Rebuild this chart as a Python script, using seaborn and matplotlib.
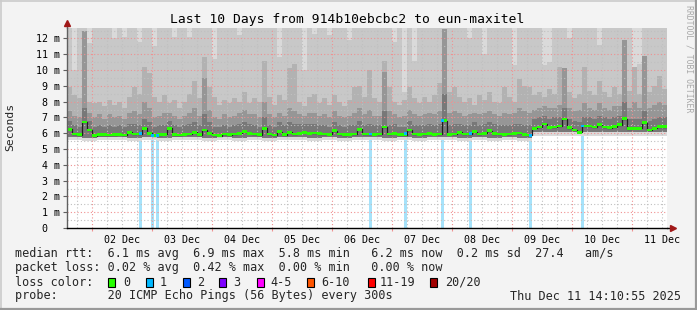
import numpy as np
import pandas as pd
import matplotlib
matplotlib.use("Agg")
import matplotlib.pyplot as plt
import seaborn as sns
from matplotlib.patches import Rectangle
from matplotlib.lines import Line2D

# ---------------- data (2-hour bins, 120 bins over 10 days) ----------------
median_rtt = [6.25,5.95,5.90,6.70,6.20,5.85,5.90,5.90,5.88,5.90,
              5.92,5.88,6.05,5.95,5.95,6.30,6.00,5.85,5.90,5.92,
              6.30,5.90,5.88,5.92,5.95,6.05,5.90,6.20,6.00,5.88,
              5.85,5.95,5.90,5.95,6.00,6.10,6.00,5.95,5.90,6.30,
              5.95,5.88,6.10,5.90,6.05,5.95,6.00,6.05,6.00,6.02,
              5.98,5.95,5.92,6.15,5.95,5.90,5.92,5.95,6.25,5.95,
              5.95,5.92,5.95,6.40,5.95,6.00,5.90,5.90,6.20,5.95,
              5.92,5.95,6.00,5.92,5.95,6.80,5.92,5.95,6.05,5.95,
              5.95,6.10,5.95,6.00,6.15,5.98,5.95,5.92,5.95,6.00,
              6.02,5.92,5.88,6.30,6.40,6.58,6.37,6.40,6.46,6.90,
              6.35,6.20,6.05,6.45,6.45,6.40,6.55,6.40,6.35,6.42,
              6.55,6.92,6.28,6.30,6.30,6.67,6.20,6.30,6.42,6.42]

smoke_dark = [6.8,6.5,6.4,7.6,6.8,6.4,6.5,6.4,6.5,6.4,
              6.5,6.4,6.6,6.6,6.5,6.9,6.7,6.4,6.5,6.5,
              6.8,6.5,6.4,6.5,6.6,6.7,6.5,7.2,6.7,6.4,
              6.4,6.5,6.4,6.5,6.6,6.7,6.6,6.5,6.4,7.0,
              6.5,6.4,6.7,6.5,6.7,6.6,6.6,6.6,6.6,6.6,
              6.5,6.5,6.4,6.7,6.5,6.4,6.5,6.5,6.8,6.5,
              6.6,6.5,6.5,7.4,6.5,6.6,6.4,6.4,6.8,6.5,
              6.5,6.5,6.6,6.5,6.6,8.5,6.5,6.6,6.6,6.5,
              6.5,6.7,6.5,6.6,6.7,6.6,6.5,6.5,6.5,6.6,
              6.6,6.5,6.5,6.9,7.0,7.1,6.9,7.0,7.0,7.6,
              6.9,6.8,6.7,7.0,7.0,6.9,7.1,7.0,6.9,7.0,
              7.1,8.0,6.9,6.9,6.9,7.4,6.8,6.9,7.0,7.0]

smoke_middark = [7.4,7.1,7.0,12.5,7.3,7.0,7.2,6.9,7.2,7.0,
                 7.1,6.9,7.3,7.4,7.2,8.0,7.6,7.0,7.1,7.3,
                 7.3,7.1,6.9,7.1,7.3,7.6,7.1,9.5,7.5,7.0,
                 6.9,7.2,7.0,7.1,7.3,7.5,7.2,7.2,7.0,8.0,
                 7.2,7.0,7.3,7.1,7.6,7.4,7.2,7.1,7.3,7.3,
                 7.1,7.2,7.0,7.4,7.1,7.0,7.1,7.3,7.6,7.2,
                 7.5,7.1,7.1,9.9,7.4,7.2,7.0,7.1,7.5,7.2,
                 7.1,7.2,7.3,7.2,7.4,12.6,7.3,7.4,7.3,7.1,
                 7.2,7.3,7.2,7.3,7.4,7.2,7.1,7.3,7.2,7.3,
                 7.6,7.4,7.3,7.5,7.6,7.7,7.6,7.6,7.8,10.1,
                 7.6,7.4,7.5,7.9,7.6,7.5,7.9,7.6,7.5,7.7,
                 7.7,11.9,7.6,8.0,7.6,10.9,7.6,7.8,8.0,7.8]

smoke_mid = [8.9,8.4,8.2,9.0,8.0,7.9,8.0,7.7,8.1,7.8,
             8.0,7.6,8.3,8.9,8.5,10.2,9.8,8.3,8.0,8.4,
             7.9,8.1,7.6,8.0,8.5,9.3,8.2,10.8,8.9,8.3,
             7.8,8.1,7.9,8.2,8.0,8.6,7.9,8.2,8.0,10.6,
             8.3,7.8,8.4,8.1,10.1,10.4,8.0,7.7,8.3,8.5,
             7.9,8.2,7.8,8.4,8.0,7.7,8.1,8.9,9.0,8.3,
             10.0,8.2,8.0,10.6,8.9,8.0,7.8,8.1,8.9,8.2,
             7.9,8.3,8.0,8.4,9.2,12.3,8.6,8.9,8.3,8.0,
             8.2,7.8,8.4,8.1,8.6,8.0,7.9,8.9,8.3,8.0,
             9.4,9.0,8.9,8.4,8.6,8.3,8.8,8.5,10.2,10.1,
             8.6,8.2,8.5,10.2,8.7,8.4,9.3,8.6,8.3,8.9,
             8.5,11.9,8.7,10.2,8.5,10.9,8.6,9.0,9.6,8.8]

smoke_light = [13.0,10.0,13.0,13.0,11.7,13.0,13.0,13.0,13.0,12.0,
               13.0,12.1,13.0,13.0,11.8,13.0,13.0,11.5,13.0,13.0,
               13.0,12.1,13.0,13.0,12.1,13.0,13.0,13.0,13.0,10.7,
               13.0,13.0,13.0,13.0,12.2,13.0,13.0,13.0,13.0,13.0,
               13.0,13.0,10.8,13.0,13.0,13.0,13.0,10.0,13.0,12.3,
               13.0,13.0,12.2,13.0,13.0,13.0,11.9,13.0,13.0,13.0,
               13.0,13.0,13.0,13.0,13.0,11.8,13.0,8.6,13.0,10.6,
               13.0,13.0,13.0,13.0,13.0,13.0,13.0,13.0,13.0,13.0,
               12.0,13.0,13.0,11.0,13.0,13.0,13.0,13.0,13.0,10.3,
               13.0,13.0,13.0,13.0,13.0,10.3,10.5,13.0,13.0,13.0,
               12.0,13.0,13.0,13.0,13.0,13.0,11.6,13.0,13.0,13.0,
               13.0,13.0,13.0,9.8,10.4,13.0,13.0,13.0,13.0,13.0]

# lower smoke edges, 6-hour bins (40 bins)
smoke_min = [5.55,5.50,5.55,5.60,5.50,5.55,5.50,5.55,5.60,5.50,
             5.55,5.50,5.55,5.50,5.60,5.55,5.50,5.55,5.50,5.55,
             5.60,5.50,5.55,5.50,5.55,5.60,5.50,5.55,5.50,5.55,
             5.50,5.80,5.85,5.80,5.80,5.85,5.80,5.80,5.85,5.80]
smoke_low = [5.75,5.72,5.75,5.78,5.72,5.75,5.72,5.75,5.78,5.72,
             5.75,5.72,5.75,5.72,5.78,5.75,5.72,5.75,5.72,5.75,
             5.78,5.72,5.75,5.72,5.75,5.78,5.72,5.75,5.72,5.75,
             5.72,6.05,6.10,6.05,6.05,6.10,6.05,6.05,6.10,6.05]

# loss events (hour from start, duration in hours, median at that time)
loss_start = [28.8, 33.6, 35.6, 120.8, 134.8, 149.6, 160.8, 184.8, 205.6]
loss_width = [1.0, 1.2, 1.2, 1.0, 1.0, 1.2, 1.0, 1.0, 1.2]
loss_median = [6.0, 5.85, 5.85, 5.95, 6.0, 6.8, 6.0, 5.85, 6.45]

day_labels = ["02 Dec", "03 Dec", "04 Dec", "05 Dec", "06 Dec",
              "07 Dec", "08 Dec", "09 Dec", "10 Dec", "11 Dec"]
y_ticks = list(range(0, 13))
y_labels = ["0\u00a0\u00a0"] + [f"{v} m" for v in range(1, 13)]

start_time = pd.Timestamp("2025-12-01 14:10:55")
TOP = 200 / 15.8

loss_colors = ["#26ff00", "#00b8ff", "#0059ff", "#7e00ff", "#ff00ff", "#ff5500", "#ff0000", "#a10000"]
loss_names = ["0", "1", "2", "3", "4-5", "6-10", "11-19", "20/20"]

# ---------------- figure ----------------
W, H = 697, 310
sns.set_theme(style="white")
plt.rcParams["font.family"] = ["DejaVu Sans Mono", "DejaVu Sans"]
fig = plt.figure(figsize=(W / 100, H / 100), dpi=100, facecolor="#f3f3f3")
ax = fig.add_axes([67 / W, (H - 228) / H, 600 / W, 200 / H])
ax.set_facecolor("white")

nb = len(median_rtt)
edges = np.arange(nb + 1) * 2.0


def ext(a):
    a = np.asarray(a, float)
    return np.append(a, a[-1])


lo_min = np.repeat(smoke_min, 3)
lo_low = np.repeat(smoke_low, 3)
top_arr = np.full(nb, 13.0)

# loss background
ax.bar(loss_start, TOP, width=loss_width, align="edge", color="#a6e2fa", lw=0, zorder=1)

layers = [
    (lo_min, top_arr, "#dadada"),
    (lo_low, smoke_light, "#c8c8c8"),
    (lo_low, smoke_mid, "#b2b2b2"),
    (lo_low, smoke_middark, "#969696"),
    (lo_low, smoke_dark, "#787878"),
]
for lo, hi, c in layers:
    ax.fill_between(edges, ext(lo), ext(hi), step="post", color=c, lw=0, zorder=2)

# grid
first_midnight = ((start_time.normalize() + pd.Timedelta(days=1)) - start_time) / pd.Timedelta(hours=1)
midnights = first_midnight + 24 * np.arange(10)
six = first_midnight - 6 + 6 * np.arange(41)
six = six[(six > 0) & (six < 240)]
for h in six:
    if np.min(np.abs(midnights - h)) > 0.1:
        ax.axvline(h, color="#c0c0c0", ls=(0, (1, 2)), lw=0.8, zorder=3)
for h in midnights:
    ax.axvline(h, color="#f09090", ls=(0, (1, 2)), lw=0.8, zorder=3)
for v in np.arange(0.5, 12.6, 1.0):
    ax.axhline(v, color="#c0c0c0", ls=(0, (1, 2)), lw=0.8, zorder=3)
for v in range(1, 13):
    ax.axhline(v, color="#f09090", ls=(0, (1, 2)), lw=0.8, zorder=3)

# median line and loss-coloured markers
df = pd.DataFrame({"h": edges, "med": ext(median_rtt)})
sns.lineplot(data=df, x="h", y="med", drawstyle="steps-post", color="#202020", lw=0.9, ax=ax, zorder=5)
ax.fill_between(edges, ext(median_rtt) - 0.085, ext(median_rtt) + 0.085, step="post",
                color=loss_colors[0], lw=0, zorder=6)
ax.bar(loss_start, 0.17, width=loss_width, bottom=np.array(loss_median) - 0.085, align="edge",
       color=loss_colors[1], lw=0, zorder=7)

# axes
ax.set_xlim(0, 240)
ax.set_ylim(0, TOP)
ax.set_xlabel("")
ax.set_ylabel("")
ax.set_yticks(y_ticks)
ax.set_yticklabels(y_labels)
ax.set_xticks(midnights + 12)
ax.set_xticklabels(day_labels)
ax.set_xticks(np.concatenate([midnights, midnights + 12]), minor=True)
ax.tick_params(axis="y", which="major", length=3, width=0.8, color="#606060", pad=2,
               labelsize=7.2, labelcolor="black", left=True)
ax.tick_params(axis="x", which="major", length=0, pad=5, labelsize=7.2, labelcolor="black", bottom=True)
ax.tick_params(axis="x", which="minor", length=2.5, width=0.8, color="#f09090", bottom=True)
for s in ["top", "right"]:
    ax.spines[s].set_visible(False)
ax.spines["left"].set_color("#606060")
ax.spines["left"].set_linewidth(1.0)
ax.spines["bottom"].set_color("black")
ax.spines["bottom"].set_linewidth(1.0)
ax.spines["left"].set_zorder(8)
ax.spines["bottom"].set_zorder(8)

# axis arrows
ax.plot([0, 0], [1.0, 1.02], transform=ax.transAxes, clip_on=False, color="#606060", lw=1.0)
ax.plot([0], [1.025], marker="^", ms=4.5, color="#a01818", transform=ax.transAxes, clip_on=False)
ax.plot([1.0, 1.008], [0, 0], transform=ax.transAxes, clip_on=False, color="black", lw=1.0)
ax.plot([1.01], [0], marker=">", ms=4.5, color="#a01818", transform=ax.transAxes, clip_on=False)

# texts
fig.text(347.5 / W, 1 - 19.5 / H, "Last 10 Days from 914b10ebcbc2 to eun-maxitel",
         ha="center", va="center", fontsize=9.4, color="black")
fig.text(10 / W, 1 - 127 / H, "Seconds", rotation=90, ha="center", va="center", fontsize=8.2)
fig.text(688.5 / W, 1 - 59 / H, "RRDTOOL / TOBI OETIKER", rotation=270, ha="center", va="center",
         fontsize=5.9, color="#a8a8a8")

fs = 8.43
x0 = 15
fig.text(x0 / W, 1 - 254 / H,
         "median rtt:  6.1 ms avg  6.9 ms max  5.8 ms min   6.2 ms now  0.2 ms sd  27.4   am/s",
         ha="left", va="center", fontsize=fs)
fig.text(x0 / W, 1 - 268 / H,
         "packet loss: 0.02 % avg  0.42 % max  0.00 % min   0.00 % now",
         ha="left", va="center", fontsize=fs)
fig.text(x0 / W, 1 - 282 / H, "loss color:", ha="left", va="center", fontsize=fs)
sq_x = [108, 145.5, 182.7, 219.3, 256.7, 306.7, 367.7, 430]
lab_x = [123.3, 160, 196.7, 233.3, 270.7, 321.7, 380, 445]
for sx, lx, c, n in zip(sq_x, lab_x, loss_colors, loss_names):
    fig.patches.append(Rectangle((sx / W, 1 - 286.5 / H), 7 / W, 8.5 / H, transform=fig.transFigure,
                                 facecolor=c, edgecolor="black", lw=0.8))
    fig.text(lx / W, 1 - 282 / H, n, ha="left", va="center", fontsize=fs)
fig.text(x0 / W, 1 - 296 / H, "probe:       20 ICMP Echo Pings (56 Bytes) every 300s",
         ha="left", va="center", fontsize=fs)
fig.text(681 / W, 1 - 296 / H, "Thu Dec 11 14:10:55 2025", ha="right", va="center", fontsize=fs)

# frame
fig.add_artist(Line2D([0.5 / W, 0.5 / W], [0, 1], color="#cbcbcb", lw=1.2, transform=fig.transFigure))
fig.add_artist(Line2D([0, 1], [1 - 0.5 / H, 1 - 0.5 / H], color="#cbcbcb", lw=1.2, transform=fig.transFigure))
fig.add_artist(Line2D([1 - 0.8 / W, 1 - 0.8 / W], [0, 1], color="#999999", lw=1.6, transform=fig.transFigure))
fig.add_artist(Line2D([0, 1], [0.8 / H, 0.8 / H], color="#999999", lw=1.6, transform=fig.transFigure))

fig.savefig("out.png", dpi=100, facecolor=fig.get_facecolor())
